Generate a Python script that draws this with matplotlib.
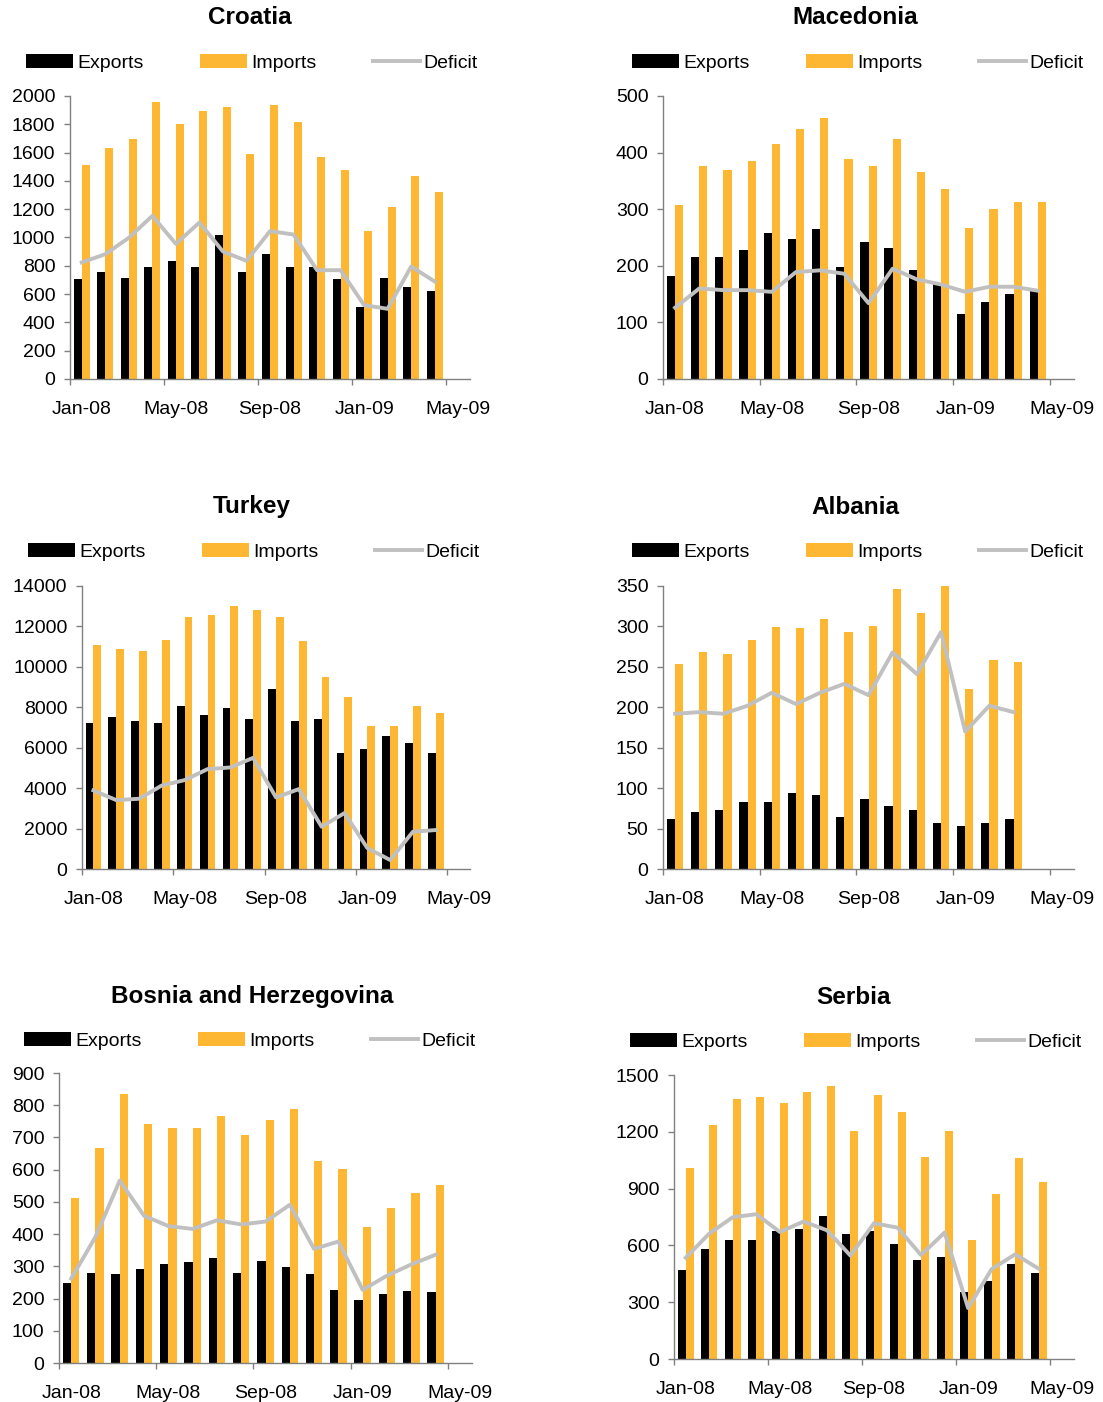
import numpy as np
import matplotlib
matplotlib.use('Agg')
import matplotlib.pyplot as plt
from matplotlib.ticker import MultipleLocator, FixedLocator, NullFormatter

# monthly values, Jan-08 onwards
croatia_exports = [708, 758, 715, 793, 835, 793, 1019, 758, 885, 793, 793, 708, 511, 715, 652, 624]
croatia_imports = [1513, 1633, 1696, 1958, 1802, 1894, 1922, 1591, 1936, 1816, 1569, 1478, 1047, 1216, 1435, 1322]
croatia_deficit = [824, 882, 998, 1153, 955, 1106, 901, 835, 1045, 1021, 769, 769, 522, 496, 795, 689]

macedonia_exports = [182, 216, 216, 228, 258, 248, 265, 198, 242, 232, 193, 168, 114, 136, 151, 156]
macedonia_imports = [308, 376, 369, 385, 415, 442, 461, 389, 376, 424, 366, 336, 267, 301, 313, 313]
macedonia_deficit = [126, 160, 157, 157, 154, 189, 192, 186, 134, 195, 176, 167, 154, 163, 163, 156]

turkey_exports = [7214, 7511, 7313, 7214, 8054, 7609, 7955, 7412, 8894, 7313, 7412, 5732, 5929, 6572, 6226, 5732]
turkey_imports = [11068, 10871, 10772, 11315, 12452, 12551, 12995, 12798, 12452, 11266, 9487, 8499, 7066, 7066, 8054, 7708]
turkey_deficit = [3887, 3409, 3475, 4134, 4398, 4941, 5024, 5501, 3541, 3953, 2092, 2767, 1038, 445, 1845, 1927]

albania_exports = [61.8, 70.4, 72.9, 82.8, 82.8, 93.9, 91.4, 64.2, 86.5, 77.8, 72.9, 56.8, 53.1, 56.8, 61.8]
albania_imports = [253, 268, 266, 283, 299, 298, 309, 293, 301, 346, 316, 350, 222, 258, 256]
albania_deficit = [192, 194, 192, 202, 218, 204, 218, 229, 215, 268, 241, 293, 170, 202, 194]

bosnia_exports = [247, 278, 275, 291, 306, 312, 325, 278, 316, 297, 275, 228, 197, 213, 225, 219]
bosnia_imports = [512, 667, 836, 742, 730, 730, 767, 708, 755, 789, 627, 602, 421, 481, 527, 552]
bosnia_deficit = [262, 391, 566, 457, 425, 416, 443, 430, 439, 491, 354, 377, 227, 271, 306, 336]

serbia_exports = [468, 580, 627, 627, 675, 686, 754, 659, 675, 606, 521, 537, 352, 410, 500, 452]
serbia_imports = [1009, 1237, 1375, 1385, 1353, 1412, 1443, 1205, 1396, 1306, 1067, 1205, 627, 871, 1062, 935]
serbia_deficit = [535, 663, 749, 765, 671, 726, 680, 546, 717, 694, 549, 668, 269, 475, 553, 477]

tick_labels = ['Jan-08', 'May-08', 'Sep-08', 'Jan-09', 'May-09']

BLACK = '#000000'
ORANGE = '#FDB733'
GREY = '#C0C0C0'
AXIS = '#808080'

W, H = 1103, 1402
plt.rcParams['font.family'] = ['Liberation Sans', 'DejaVu Sans']
plt.rcParams['font.size'] = 14

fig = plt.figure(figsize=(W / 100, H / 100), dpi=100)


def px_rect(l, r, t, b):
    return [l / W, 1 - b / H, (r - l) / W, (b - t) / H]


# name, exports, imports, deficit, ymax, ystep, axes box (l, r, t, b), title pos, legend pos
panels = [
    ('Croatia', croatia_exports, croatia_imports, croatia_deficit, 2000, 200,
     (70, 470, 96, 379), (250, 18), (252, 63)),
    ('Macedonia', macedonia_exports, macedonia_imports, macedonia_deficit, 500, 100,
     (663, 1074, 96, 379), (855, 18), (858, 63)),
    ('Turkey', turkey_exports, turkey_imports, turkey_deficit, 14000, 2000,
     (82, 470, 586, 869), (252, 507), (254, 552)),
    ('Albania', albania_exports, albania_imports, albania_deficit, 350, 50,
     (663, 1074, 586, 869), (855, 507), (858, 552)),
    ('Bosnia and Herzegovina', bosnia_exports, bosnia_imports, bosnia_deficit, 900, 100,
     (59, 472, 1073, 1363), (252, 997), (250, 1041)),
    ('Serbia', serbia_exports, serbia_imports, serbia_deficit, 1500, 300,
     (674, 1074, 1075, 1359), (854, 997), (856, 1042)),
]

bw = 0.34
for name, exp, imp, dfc, ymax, ystep, box, tpos, lpos in panels:
    ax = fig.add_axes(px_rect(*box))
    x = np.arange(len(exp)) + 0.5
    b1 = ax.bar(x - bw / 2, exp, width=bw, color=BLACK, label='Exports', zorder=2)
    b2 = ax.bar(x + bw / 2, imp, width=bw, color=ORANGE, label='Imports', zorder=2)
    l1, = ax.plot(x, dfc, color=GREY, lw=2.8, label='Deficit', zorder=3)

    ax.set_xlim(0, 17)
    ax.set_ylim(0, ymax)
    ax.yaxis.set_major_locator(MultipleLocator(ystep))
    ax.xaxis.set_major_locator(FixedLocator([0, 4, 8, 12, 16]))
    ax.xaxis.set_major_formatter(NullFormatter())
    ax.xaxis.set_minor_locator(FixedLocator([0.5, 4.5, 8.5, 12.5, 16.5]))
    ax.set_xticklabels(tick_labels, minor=True)
    ax.tick_params(axis='x', which='major', direction='out', length=4.5, width=1, color=AXIS)
    ax.tick_params(axis='x', which='minor', length=0, pad=16, labelsize=14)
    ax.tick_params(axis='y', direction='out', length=4.5, width=1, color=AXIS, pad=6, labelsize=14)
    for s in ('top', 'right'):
        ax.spines[s].set_visible(False)
    for s in ('left', 'bottom'):
        ax.spines[s].set_color(AXIS)
        ax.spines[s].set_linewidth(1)

    fig.text(tpos[0] / W, 1 - tpos[1] / H, name, ha='center', va='center',
             fontsize=17.5, fontweight='bold')
    ax.legend([b1, b2, l1], ['Exports', 'Imports', 'Deficit'],
              loc='center', bbox_to_anchor=(lpos[0] / W, 1 - lpos[1] / H),
              bbox_transform=fig.transFigure, ncol=3, frameon=False, fontsize=14,
              handlelength=2.42, handleheight=0.7, handletextpad=0.2,
              columnspacing=2.9, borderpad=0, borderaxespad=0)

fig.savefig('out.png', dpi=100)
